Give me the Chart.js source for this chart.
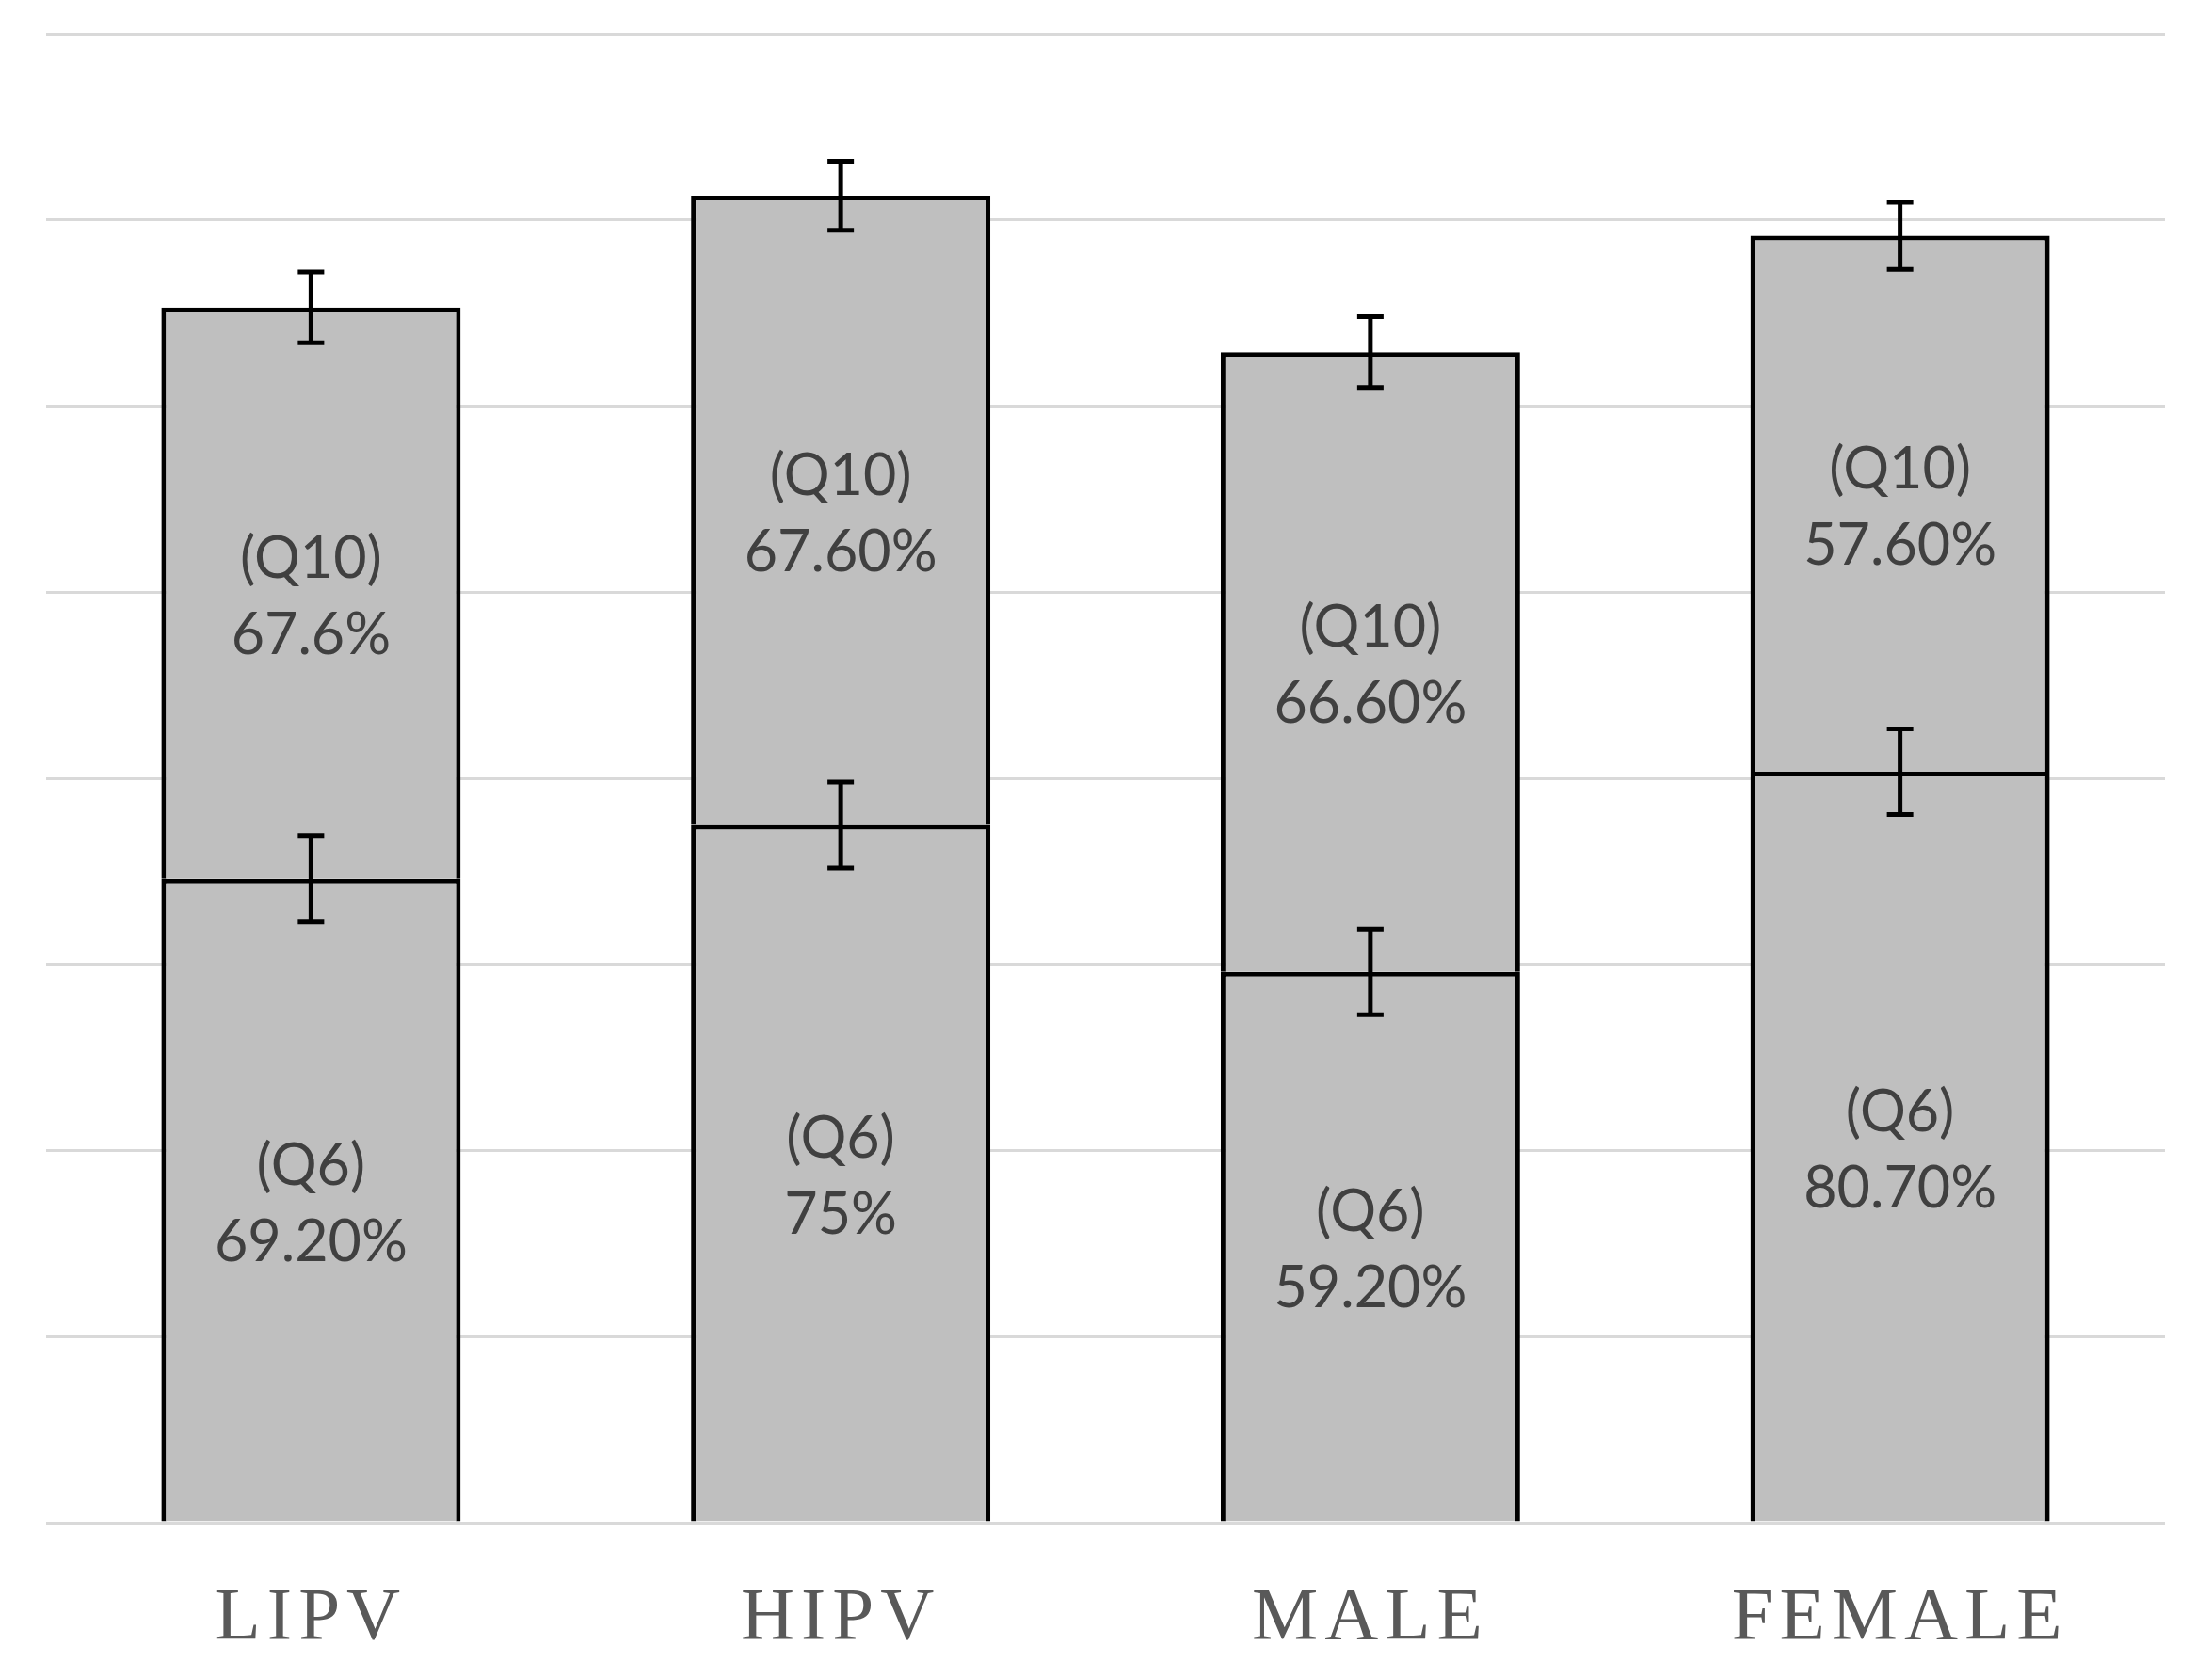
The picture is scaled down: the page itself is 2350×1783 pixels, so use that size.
<!DOCTYPE html>
<html>
<head>
<meta charset="utf-8">
<script src="https://cdn.jsdelivr.net/npm/chart.js@4.4.1/dist/chart.umd.min.js"></script>
<style>
    html, body { margin: 0; padding: 0; background: #ffffff; }
    #wrap { width: 2350px; height: 1783px; }
</style>
</head>
<body>
<div id="wrap"><canvas id="barChart"></canvas></div>
<script>
const categories = ['LIPV', 'HIPV', 'MALE', 'FEMALE'];

// bar heights (percent units, 20 per gridline)
const q6Values = [69.2, 75, 59.2, 80.7];
const q10Values = [61.4, 67.6, 66.6, 57.6];

// error bar half-lengths
const q6Errors = [4.65, 4.6, 4.6, 4.6];
const q10Errors = [3.8, 3.7, 3.8, 3.6];

// text shown inside each segment
const q6Labels = ['69.20%', '75%', '59.20%', '80.70%'];
const q10Labels = ['67.6%', '67.60%', '66.60%', '57.60%'];

const yMin = 0;
const yMax = 160;
const yStep = 20;

// error bars + in-bar labels
const barExtras = {
    id: 'barExtras',
    beforeDraw(chart) {
        chart.ctx.letterSpacing = '7px';
    },
    beforeDatasetsDraw(chart) {
        chart.ctx.letterSpacing = '0px';
    },
    afterDatasetsDraw(chart) {
        const ctx = chart.ctx;
        const yScale = chart.scales.y;
        const errSets = [q6Errors, q10Errors];
        const labelSets = [
            { tag: '(Q6)', texts: q6Labels },
            { tag: '(Q10)', texts: q10Labels }
        ];

        ctx.save();
        chart.data.datasets.forEach((ds, di) => {
            const meta = chart.getDatasetMeta(di);
            meta.data.forEach((bar, i) => {
                // label
                const midY = (bar.y + bar.base) / 2 + 4;
                ctx.fillStyle = '#404040';
                ctx.font = '61px Lato';
                ctx.textAlign = 'center';
                ctx.textBaseline = 'middle';
                ctx.fillText(labelSets[di].tag, bar.x, midY - 40);
                ctx.fillText(labelSets[di].texts[i], bar.x, midY + 41);

                // error bar
                const top = yScale.getValueForPixel(bar.y);
                const err = errSets[di][i];
                const yHi = yScale.getPixelForValue(top + err);
                const yLo = yScale.getPixelForValue(top - err);
                ctx.strokeStyle = '#000000';
                ctx.lineWidth = 5;
                ctx.beginPath();
                ctx.moveTo(bar.x, yHi);
                ctx.lineTo(bar.x, yLo);
                ctx.moveTo(bar.x - 14, yHi);
                ctx.lineTo(bar.x + 14, yHi);
                ctx.moveTo(bar.x - 14, yLo);
                ctx.lineTo(bar.x + 14, yLo);
                ctx.stroke();
            });
        });
        ctx.restore();
    }
};

const ctx = document.getElementById('barChart').getContext('2d');

new Chart(ctx, {
    type: 'bar',
    data: {
        labels: categories,
        datasets: [{
            label: 'Q6',
            data: q6Values,
            backgroundColor: '#bfbfbf',
            borderColor: '#000000',
            borderWidth: 5
        }, {
            label: 'Q10',
            data: q10Values,
            backgroundColor: '#bfbfbf',
            borderColor: '#000000',
            borderWidth: 5
        }]
    },
    options: {
        responsive: true,
        maintainAspectRatio: false,
        devicePixelRatio: 1,
        animation: false,
        layout: {
            padding: { left: 49, right: 50, top: 36, bottom: 0 }
        },
        plugins: {
            legend: { display: false },
            tooltip: { enabled: false }
        },
        datasets: {
            bar: { barPercentage: 0.565, categoryPercentage: 1 }
        },
        scales: {
            x: {
                stacked: true,
                grid: { display: false, drawTicks: false },
                border: { display: false },
                ticks: {
                    color: '#595959',
                    padding: 55,
                    font: { family: '"Liberation Serif", "Times New Roman", serif', size: 79 }
                },
                afterFit(scale) { scale.height = 165; }
            },
            y: {
                stacked: true,
                min: yMin,
                max: yMax,
                grid: { color: '#d9d9d9', lineWidth: 3, drawTicks: false },
                border: { display: false },
                ticks: { display: false, stepSize: yStep },
                afterFit(scale) { scale.width = 0; }
            }
        }
    },
    plugins: [barExtras]
});
</script>
</body>
</html>
